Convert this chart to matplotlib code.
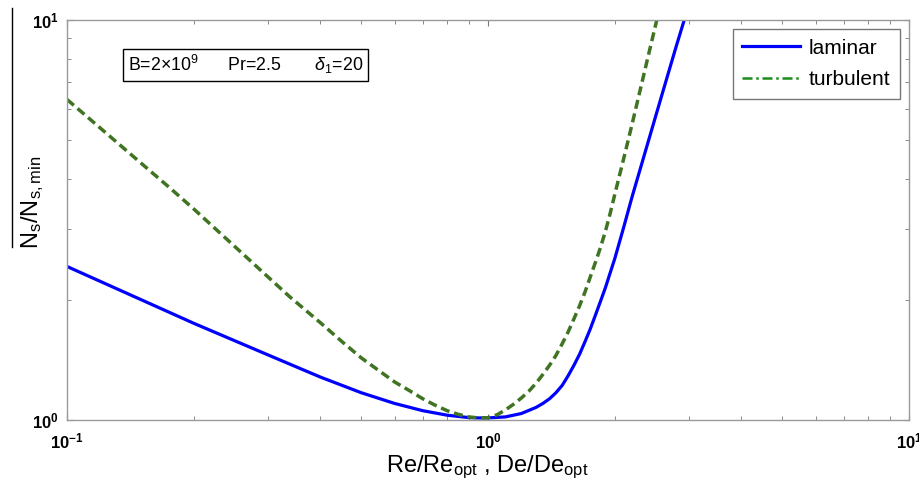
import matplotlib
matplotlib.use("Agg")
import matplotlib.pyplot as plt
from matplotlib.lines import Line2D
from matplotlib.ticker import FixedLocator, FixedFormatter, LogLocator, NullFormatter

# ---- data ----
lam_x = [0.10, 0.20, 0.30, 0.40, 0.50, 0.60, 0.70, 0.80, 0.90, 0.95, 1.00, 1.10, 1.20,
         1.30, 1.35, 1.40, 1.45, 1.50, 1.55, 1.60, 1.65, 1.70, 1.75, 1.80, 1.85, 1.90,
         1.95, 2.00, 2.10, 2.20, 2.40, 2.60, 2.80, 2.95]
lam_y = [2.42, 1.745, 1.455, 1.28, 1.17, 1.10, 1.055, 1.028, 1.014, 1.012, 1.012, 1.018, 1.038,
         1.075, 1.10, 1.13, 1.17, 1.22, 1.29, 1.37, 1.46, 1.57, 1.69, 1.83, 1.98, 2.14,
         2.33, 2.53, 3.03, 3.62, 4.95, 6.6, 8.6, 10.3]

turb_x = [0.10, 0.1757, 0.20, 0.30, 0.3386, 0.40, 0.45, 0.50, 0.55, 0.60, 0.65, 0.70, 0.75,
          0.80, 0.85, 0.90, 0.95, 1.00, 1.05, 1.10, 1.15, 1.20, 1.25, 1.30, 1.35, 1.40,
          1.45, 1.50, 1.55, 1.60, 1.65, 1.70, 1.75, 1.80, 1.85, 1.90, 1.95, 2.00, 2.10,
          2.20, 2.30, 2.40, 2.50, 2.55]
turb_y = [6.33, 3.80, 3.37, 2.28, 2.03, 1.75, 1.57, 1.43, 1.33, 1.245, 1.185, 1.13, 1.088,
          1.055, 1.033, 1.018, 1.012, 1.013, 1.03, 1.06, 1.095, 1.135, 1.18, 1.235, 1.30, 1.37,
          1.45, 1.55, 1.66, 1.79, 1.93, 2.09, 2.28, 2.48, 2.70, 2.96, 3.28, 3.66, 4.5,
          5.5, 6.7, 8.1, 9.7, 10.6]

series_labels = ["laminar", "turbulent"]
xtick_vals = [0.1, 1, 10]
xtick_labels = [r"$\mathbf{10^{-1}}$", r"$\mathbf{10^{0}}$", r"$\mathbf{10^{1}}$"]
ytick_vals = [1, 10]
ytick_labels = [r"$\mathbf{10^{0}}$", r"$\mathbf{10^{1}}$"]
annotation = r"B=2$\times$10$^9$      Pr=2.5       $\delta_1$=20"
xlabel = r"Re/Re$_{\rm opt}$ , De/De$_{\rm opt}$"
ylabel = r"N$_{\rm s}$/N$_{\rm s,min}$"

# ---- style ----
plt.rcParams["font.family"] = ["Liberation Sans", "DejaVu Sans"]
plt.rcParams["mathtext.fontset"] = "custom"
plt.rcParams["mathtext.rm"] = "Liberation Sans"
plt.rcParams["mathtext.it"] = "Liberation Sans:italic"
plt.rcParams["mathtext.bf"] = "Liberation Sans:bold"
plt.rcParams["mathtext.sf"] = "Liberation Sans"

W, H = 920, 490
fig = plt.figure(figsize=(W / 100, H / 100), dpi=100)
L, R, T, B = 67, 909, 20, 420
ax = fig.add_axes([L / W, 1 - B / H, (R - L) / W, (B - T) / H])

blue = "#0000ff"
green_plot = "#3f7422"
green_leg = "#1c8c1c"

ax.plot(lam_x, lam_y, color=blue, lw=2.3, solid_capstyle="butt", solid_joinstyle="round")
ax.plot(turb_x, turb_y, color=green_plot, lw=2.5, dashes=(2.6, 1.4))

ax.set_xscale("log")
ax.set_yscale("log")
ax.set_xlim(0.1, 10)
ax.set_ylim(1, 10)

ax.xaxis.set_major_locator(FixedLocator(xtick_vals))
ax.xaxis.set_major_formatter(FixedFormatter(xtick_labels))
ax.yaxis.set_major_locator(FixedLocator(ytick_vals))
ax.yaxis.set_major_formatter(FixedFormatter(ytick_labels))
ax.xaxis.set_minor_locator(LogLocator(base=10, subs=range(2, 10)))
ax.yaxis.set_minor_locator(LogLocator(base=10, subs=range(2, 10)))
ax.xaxis.set_minor_formatter(NullFormatter())
ax.yaxis.set_minor_formatter(NullFormatter())

spine_c = "#9a9a9a"
for s in ax.spines.values():
    s.set_color(spine_c)
    s.set_linewidth(1.0)
ax.tick_params(which="both", direction="in", top=True, right=True, color="#777777",
               labelcolor="black", labelsize=12)
ax.tick_params(which="major", length=4, width=0.8)
ax.tick_params(which="minor", length=3, width=0.6)
ax.tick_params(axis="x", pad=8)
ax.tick_params(axis="y", pad=6)

ax.set_xlabel(xlabel, fontsize=17)
ax.xaxis.set_label_coords(0.499, -0.083)
ax.set_ylabel(ylabel, fontsize=17)
ax.yaxis.set_label_coords(-0.025, 0.545)

ax.text(0.072, 0.888, annotation, transform=ax.transAxes, fontsize=12.8,
        ha="left", va="center",
        bbox=dict(boxstyle="square,pad=0.25", facecolor="white", edgecolor="black", lw=1.0))

handles = [Line2D([], [], color=blue, lw=2.3),
           Line2D([], [], color=green_leg, lw=1.8, linestyle=(0, (4, 1.5, 1, 1.5)))]
leg = ax.legend(handles, series_labels, loc="upper right", fontsize=15,
                frameon=True, fancybox=False, edgecolor="#555555",
                handlelength=2.8, handletextpad=0.4, labelspacing=0.6,
                borderpad=0.45, borderaxespad=0.45)
leg.get_frame().set_linewidth(1.0)

# stray vertical line at the left edge of the reference image
fig.add_artist(Line2D([12 / W, 12 / W], [1 - 8 / H, 1 - 247 / H], color="black", lw=1.0))

fig.savefig("out.png", dpi=100)
